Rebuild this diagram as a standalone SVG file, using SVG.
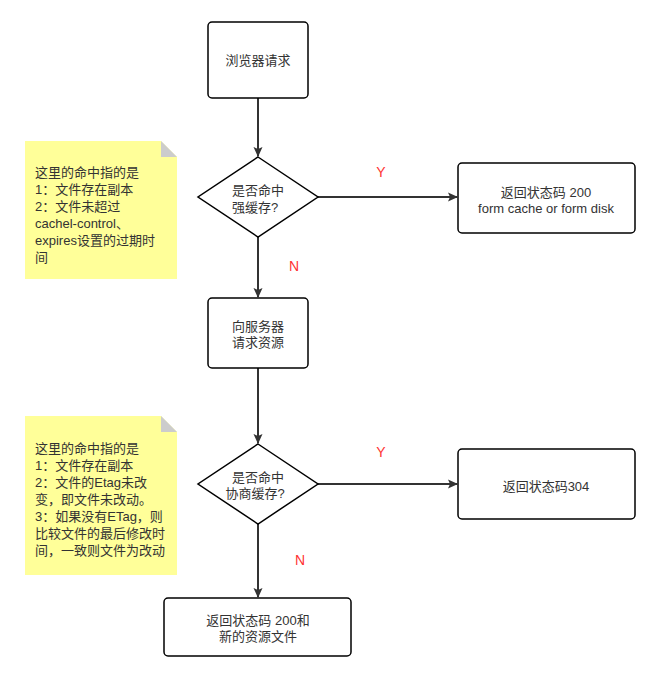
<svg xmlns="http://www.w3.org/2000/svg" width="669" height="681" viewBox="0 0 669 681">
<style>
.n{fill:#fff;stroke:#000;stroke-width:1.5}
.t{font-family:"Liberation Sans","Noto Sans CJK SC",sans-serif;font-size:13px;fill:#333;text-anchor:middle}
.tl{font-family:"Liberation Sans","Noto Sans CJK SC",sans-serif;font-size:13px;fill:#333}
.lab{font-family:"Liberation Sans","Noto Sans CJK SC",sans-serif;font-size:14px;fill:#ff3333;text-anchor:middle}
.c{stroke:#333;stroke-width:2;fill:none}
.note{fill:#ffff99}
.fold{fill:#cccccc}
</style>
<defs>
<marker id="a" viewBox="0 0 10 10" refX="9" refY="5" markerWidth="5" markerHeight="5" orient="auto" markerUnits="strokeWidth">
<path d="M0,0.5 L10,5 L0,9.5 L2,5 z" fill="#333"/>
</marker>
</defs>
<rect width="669" height="681" fill="#fff"/>
<g id="connectors">
<line class="c" x1="258" y1="98" x2="258" y2="156" marker-end="url(#a)"/>
<line class="c" x1="258" y1="237" x2="258" y2="297" marker-end="url(#a)"/>
<line class="c" x1="258" y1="368" x2="258" y2="443" marker-end="url(#a)"/>
<line class="c" x1="258" y1="524" x2="258" y2="597" marker-end="url(#a)"/>
<line class="c" x1="318" y1="197" x2="457" y2="197" marker-end="url(#a)"/>
<line class="c" x1="318" y1="484" x2="457" y2="484" marker-end="url(#a)"/>
<text class="lab" x="381" y="177">Y</text>
<text class="lab" x="294" y="271">N</text>
<text class="lab" x="381" y="457">Y</text>
<text class="lab" x="300" y="565">N</text>
</g>
<g id="start">
<rect class="n" x="208" y="22" width="100" height="76" rx="4"/>
<text class="t" x="258" y="65">浏览器请求</text>
</g>
<g id="d1">
<polygon class="n" points="258,157 318,197 258,237 198,197"/>
<text class="t" x="258" y="195">是否命中</text>
<text class="t" x="255" y="212">强缓存?</text>
</g>
<g id="r1">
<rect class="n" x="458" y="163" width="177" height="70" rx="4"/>
<text class="t" x="546" y="197">返回状态码 200</text>
<text class="t" x="546" y="213">form cache or form disk</text>
</g>
<g id="req">
<rect class="n" x="208" y="298" width="100" height="70" rx="4"/>
<text class="t" x="258" y="331">向服务器</text>
<text class="t" x="258" y="347">请求资源</text>
</g>
<g id="d2">
<polygon class="n" points="258,444 318,484 258,524 198,484"/>
<text class="t" x="258" y="482">是否命中</text>
<text class="t" x="255" y="498">协商缓存?</text>
</g>
<g id="r2">
<rect class="n" x="458" y="449" width="177" height="70" rx="4"/>
<text class="t" x="546" y="491">返回状态码304</text>
</g>
<g id="r3">
<rect class="n" x="164" y="598" width="187" height="58" rx="4"/>
<text class="t" x="258" y="625">返回状态码 200和</text>
<text class="t" x="258" y="641">新的资源文件</text>
</g>
<g id="note1">
<path class="note" d="M25,141 L161,141 L177,157 L177,279 L25,279 z"/>
<path class="fold" d="M161,141 L177,157 L161,157 z"/>
<text class="tl" x="35" y="177">这里的命中指的是</text>
<text class="tl" x="35" y="194">1：文件存在副本</text>
<text class="tl" x="35" y="211">2：文件未超过</text>
<text class="tl" x="35" y="228">cachel-control、</text>
<text class="tl" x="35" y="245">expires设置的过期时</text>
<text class="tl" x="35" y="262">间</text>
</g>
<g id="note2">
<path class="note" d="M25,416 L161,416 L177,432 L177,575 L25,575 z"/>
<path class="fold" d="M161,416 L177,432 L161,432 z"/>
<text class="tl" x="35" y="453">这里的命中指的是</text>
<text class="tl" x="35" y="470">1：文件存在副本</text>
<text class="tl" x="35" y="487">2：文件的Etag未改</text>
<text class="tl" x="35" y="504">变，即文件未改动。</text>
<text class="tl" x="35" y="521">3：如果没有ETag，则</text>
<text class="tl" x="35" y="538">比较文件的最后修改时</text>
<text class="tl" x="35" y="555">间，一致则文件为改动</text>
</g>
</svg>
